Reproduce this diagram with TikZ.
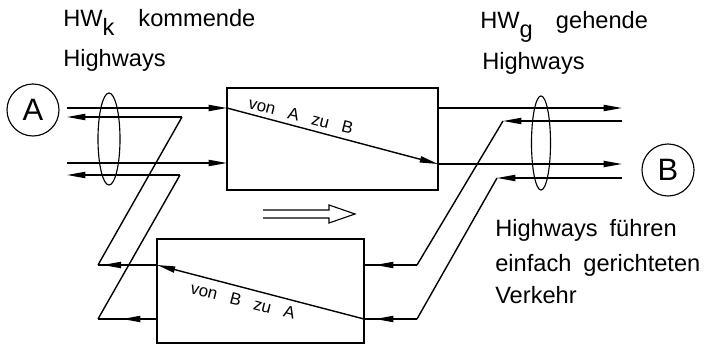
\documentclass[tikz,border=0pt]{standalone}
\usepackage{fontspec}
\setmainfont{Liberation Sans}
\usetikzlibrary{arrows.meta,shapes.geometric,decorations.markings}
\newcommand{\hwsub}[1]{\raisebox{-5.7pt}{#1}}

\begin{document}
\begin{tikzpicture}[
    x=0.025cm, y=-0.025cm,
    >={Triangle[length=13pt,width=4.4pt]},
    wire/.style={line width=1pt},
    arrow/.style={wire,->},
    marrow/.style={wire,postaction={decorate},
      decoration={markings,mark=at position #1 with {\arrow{>}}}},
    block/.style={rectangle,draw,line width=1.8pt,inner sep=0pt,outer sep=0pt},
    bundle/.style={ellipse,draw,line width=0.8pt,inner sep=0pt,outer sep=0pt},
    station/.style={circle,draw,line width=0.8pt,minimum size=1.3cm,inner sep=0pt,
      font=\fontsize{22}{24}\selectfont},
    note/.style={anchor=base west,inner sep=0pt,
      font=\fontsize{16.8}{20}\selectfont\setlength{\spaceskip}{0.3cm}},
    boxtext/.style={inner sep=0pt,rotate=-14,
      font=\fontsize{12}{14}\selectfont\setlength{\spaceskip}{0.33cm}}
  ]
    \useasboundingbox (0,0) rectangle (708,346);

    \node[station] (A) at (33,110) {A};
    \node[station] (B) at (668,170) {B};
    \node[block,minimum width=5.275cm,minimum height=2.55cm] (ab) at (332.5,139) {};
    \node[block,minimum width=5.175cm,minimum height=2.6cm] (ba) at (260.5,291) {};
    \node[bundle,minimum width=0.55cm,minimum height=2.3cm] (hwk) at (109,139) {};
    \node[bundle,minimum width=0.475cm,minimum height=2.35cm] (hwg) at (541,143) {};

    % ends and knees of the highways
    \coordinate (inA1) at (67,108);
    \coordinate (inA2) at (67,163);
    \coordinate (outA1) at (67,117);
    \coordinate (outA2) at (67,175);
    \coordinate (kl1) at (182,117);
    \coordinate (kl2) at (180,175);
    \coordinate (kl3) at (98,265);
    \coordinate (kl4) at (98,319);
    \coordinate (outB1) at (622,108);
    \coordinate (outB2) at (622,164);
    \coordinate (inB1) at (622,121);
    \coordinate (inB2) at (622,178);
    \coordinate (kr1) at (503,121);
    \coordinate (kr2) at (497,178);
    \coordinate (kr3) at (417,265);
    \coordinate (kr4) at (417,319);

    % A -> B
    \draw[arrow] (inA1) -- (ab.west |- inA1);
    \draw[arrow] (inA2) -- (ab.west |- inA2);
    \draw[arrow] (ab.west |- inA1) -- (ab.east |- outB2);
    \draw[arrow] (ab.east |- outB1) -- (outB1);
    \draw[arrow] (ab.east |- outB2) -- (outB2);

    % B -> A
    \draw[arrow] (inB1) -- (kr1);
    \draw[wire] (kr1) -- (kr3);
    \draw[marrow=0.79] (kr3) -- (ba.east |- kr3);
    \draw[arrow] (inB2) -- (kr2);
    \draw[wire] (kr2) -- (kr4);
    \draw[marrow=0.79] (kr4) -- (ba.east |- kr4);
    \draw[arrow] (ba.east |- kr4) -- (ba.west |- kl3);
    \draw[marrow=0.92] (ba.west |- kl3) -- (kl3);
    \draw[wire] (kl3) -- (kl1);
    \draw[arrow] (kl1) -- (outA1);
    \draw[marrow=0.59] (ba.west |- kl4) -- (kl4);
    \draw[wire] (kl4) -- (kl2);
    \draw[arrow] (kl2) -- (outA2);

    % direction sign
    \draw[line width=0.8pt] (263,210) -- (329,210) -- (329,205) -- (355,214)
      -- (329,223) -- (329,218) -- (263,218);

    \node[note] (hwkt) at (63,27) {HW\hwsub{k}\hspace{0.6cm}kommende};
    \node[note] (hwkh) at (63,67) {Highways};
    \node[note] (hwgt) at (480,29) {HW\hwsub{g}\hspace{0.58cm}gehende};
    \node[note] (hwgh) at (482,70) {Highways};
    \node[note] (rem1) at (495,237) {Highways führen};
    \node[note] (rem2) at (495,272) {einfach gerichteten};
    \node[note] (rem3) at (495,303) {Verkehr};
    \node[boxtext] (abt) at (301,116) {von A zu B};
    \node[boxtext] (bat) at (243,301) {von B zu A};
\end{tikzpicture}
\end{document}
